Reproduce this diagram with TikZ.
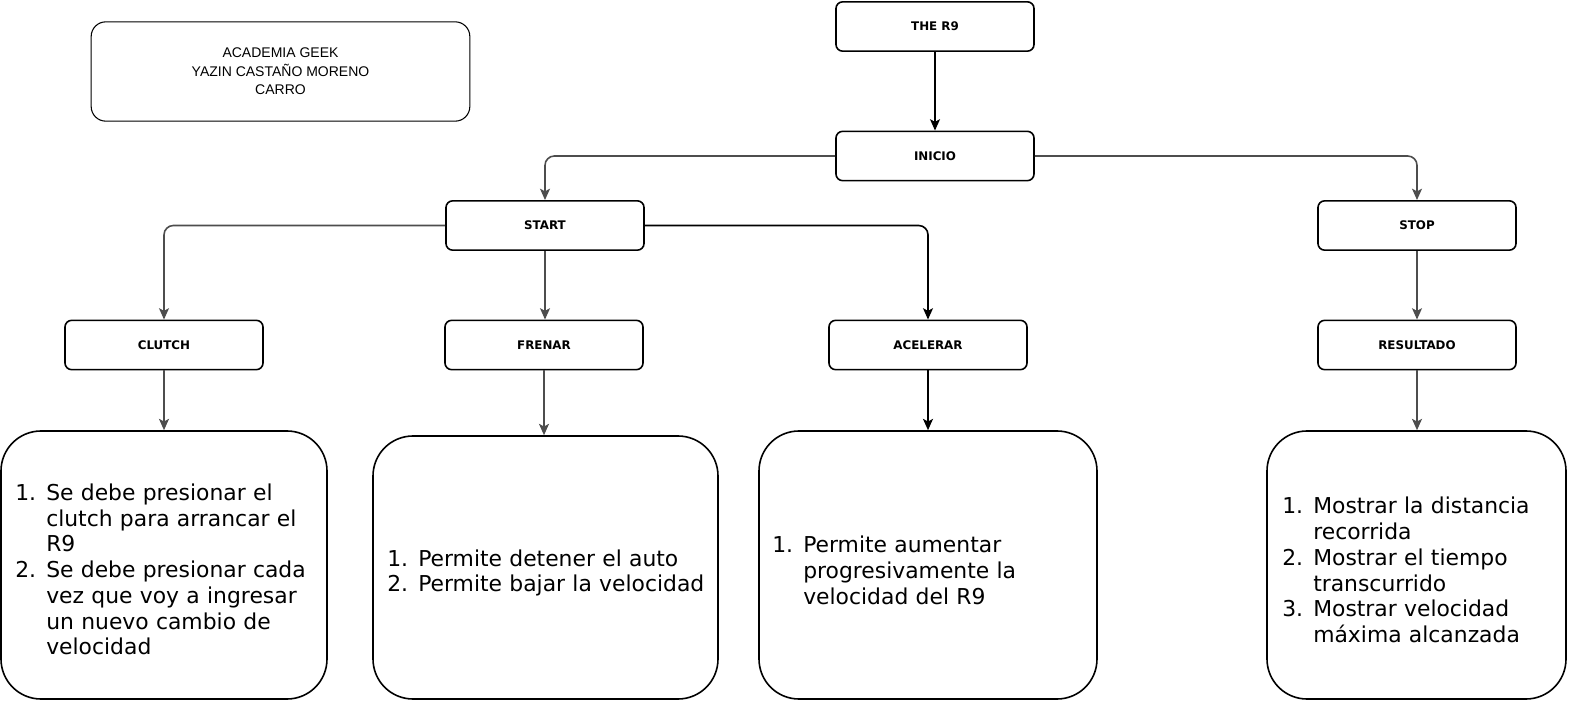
\documentclass[tikz,border=0pt]{standalone}
\usepackage{fontspec}
\setmainfont{DejaVu Sans}
\newfontfamily\arialf{Liberation Sans}
\usetikzlibrary{arrows.meta}
\definecolor{lgray}{RGB}{77,77,77}
\newcommand{\itm}[2]{\par\hangindent=23.25pt\hangafter=1\noindent\makebox[23.25pt][l]{#1}#2\par}
\begin{document}
\begin{tikzpicture}[x=0.75pt,y=-0.75pt,
  sbox/.style={draw, line width=1.2pt, rounded corners=5pt, minimum width=148.5pt, minimum height=37pt, inner sep=0pt, font=\bfseries\fontsize{8.9}{10}\selectfont},
  bigbox/.style={draw, line width=1.2pt, rounded corners=30pt, inner sep=0pt},
  bodytext/.style={anchor=west, inner sep=0pt, text width=300pt, align=left, font=\fontsize{16.4}{19.3}\selectfont},
  garrow/.style={draw=lgray, line width=1.2pt, rounded corners=7pt, -{Stealth[length=8.5pt,width=7.5pt,inset=2pt]}},
  barrow/.style={draw=black, line width=1.2pt, rounded corners=7pt, -{Stealth[length=8.5pt,width=7.5pt,inset=2pt]}}
]
\useasboundingbox (0,0) rectangle (1572,702);

% header
\node[draw, line width=0.8pt, rounded corners=11pt, minimum width=284pt, minimum height=74.5pt, inner sep=0pt,
  align=center, font=\arialf\fontsize{10.5}{13.9}\selectfont] (header) at (280.5,71.5)
  {ACADEMIA GEEK\\YAZIN CASTAÑO MORENO\\CARRO};

% small boxes
\node[sbox] (r9) at (935,26.5) {THE R9};
\node[sbox] (inicio) at (935,156) {INICIO};
\node[sbox] (start) at (545,225.5) {START};
\node[sbox] (stop) at (1417,225.5) {STOP};
\node[sbox] (clutch) at (164,345) {CLUTCH};
\node[sbox] (frenar) at (544,345) {FRENAR};
\node[sbox] (acel) at (928,345) {ACELERAR};
\node[sbox] (res) at (1417,345) {RESULTADO};

% big boxes
\node[bigbox, minimum width=244.5pt, minimum height=201pt] (clutchbox) at (164,565) {};
\node[bigbox, minimum width=258.75pt, minimum height=197.25pt] (frenarbox) at (545.5,567.5) {};
\node[bigbox, minimum width=253.5pt, minimum height=201pt] (acelbox) at (928,565) {};
\node[bigbox, minimum width=224.25pt, minimum height=201pt] (resbox) at (1416.5,565) {};

% texts
\node[bodytext] (clutchtxt) at (15,565) {%
\itm{1.}{Se debe presionar el\newline clutch para arrancar el\newline R9}%
\itm{2.}{Se debe presionar cada\newline vez que voy a ingresar\newline un nuevo cambio de\newline velocidad}};
\node[bodytext] (frenartxt) at (387,568.5) {%
\itm{1.}{Permite detener el auto}%
\itm{2.}{Permite bajar la velocidad}};
\node[bodytext] (aceltxt) at (772,566) {%
\itm{1.}{Permite aumentar\newline progresivamente la\newline velocidad del R9}};
\node[bodytext] (restxt) at (1282,565.5) {%
\itm{1.}{Mostrar la distancia\newline recorrida}%
\itm{2.}{Mostrar el tiempo\newline transcurrido}%
\itm{3.}{Mostrar velocidad\newline máxima alcanzada}};

% connectors
\draw[barrow] (r9) -- (inicio);
\draw[garrow] (inicio.west) -| (start.north);
\draw[garrow] (inicio.east) -| (stop.north);
\draw[garrow] (start.west) -| (clutch.north);
\draw[garrow] (start.south) -- (start.south |- frenar.north);
\draw[barrow] (start.east) -| (acel.north);
\draw[garrow] (stop) -- (res);
\draw[garrow] (clutch.south) -- (clutch.south |- clutchbox.north);
\draw[garrow] (frenar.south) -- (frenar.south |- frenarbox.north);
\draw[barrow] (acel.south) -- (acel.south |- acelbox.north);
\draw[garrow] (res.south) -- (res.south |- resbox.north);
\end{tikzpicture}
\end{document}
